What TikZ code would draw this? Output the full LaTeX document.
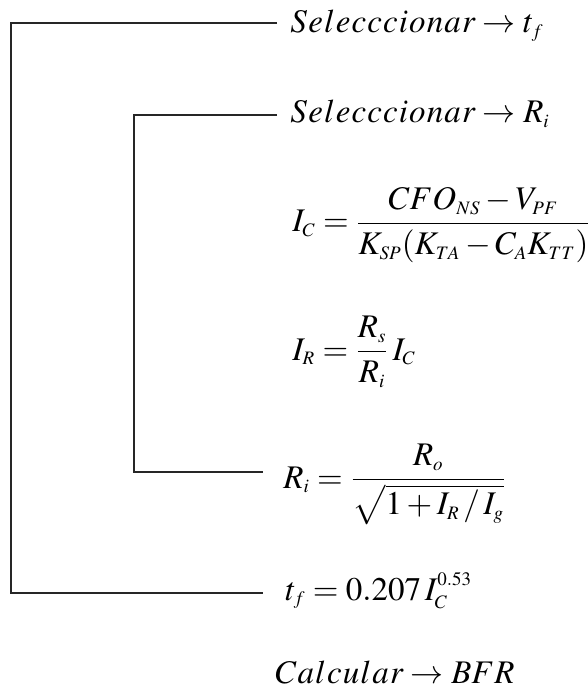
\documentclass[tikz,border=0pt]{standalone}
\usepackage{amsmath}
\usepackage{mathptmx}
\usepackage{fontspec}
\setmainfont{Liberation Serif}
\usepackage{tikz}
\usetikzlibrary{positioning,calc}
\DeclareMathSizes{16.5}{16.5}{9.5}{7.5}

\newcommand{\lsp}{\mkern0.6mu}

\begin{document}
\begin{tikzpicture}[
    x=0.5pt, y=-0.5pt,
    eqn/.style={inner sep=0pt, anchor=base west, font=\fontsize{16.5}{20}\selectfont},
    bracket/.style={draw, line width=0.75pt, color=black!85}
]
    \useasboundingbox (0,0) rectangle (587,688);

    % Steps (top to bottom)
    \node[eqn] (seltf) at (290,33) {$S\lsp e\lsp l\lsp e\lsp c\lsp c\lsp c\lsp i\lsp o\lsp n\lsp a\lsp r \rightarrow t_f$};
    \node[eqn] (selri) at (290,123) {$S\lsp e\lsp l\lsp e\lsp c\lsp c\lsp c\lsp i\lsp o\lsp n\lsp a\lsp r \rightarrow R_i$};
    \node[eqn] (ic) at (292,232) {$I_C = \dfrac{CFO_{NS} \mathbin{-} V_{PF}}{K_{SP}(K_{TA} \mathbin{-} C_A K_{TT})}$};
    \node[eqn] (ir) at (292,360) {$I_R = \dfrac{R_s}{R_i}\, I_C$};
    \node[eqn] (ri) at (283,488) {$R_i = \dfrac{R_o}{\sqrt{1 + I_R \,/\, I_g}}$};
    \node[eqn] (tf) at (285,600) {$t_f = 0.207\, I_C^{\raisebox{1.5pt}{$\scriptstyle 0.53$}}$};
    \node[eqn] (bfr) at (275,683) {$C\lsp a\lsp l\lsp c\lsp u\lsp l\lsp a\lsp r \rightarrow BFR$};

    % Loop ends
    \coordinate (outerx) at (11,0);
    \coordinate (innerx) at (134,0);
    \coordinate (outtop) at ([shift={(-13,-10)}]seltf.base west);
    \coordinate (outbot) at ([shift={(-22,-7)}]tf.base west);
    \coordinate (intop) at ([shift={(-13,-8)}]selri.base west);
    \coordinate (inbot) at ([shift={(-20,-16)}]ri.base west);

    % Brackets
    \path [bracket] (outtop) -| (outerx |- outbot) -- (outbot);
    \path [bracket] (intop) -| (innerx |- inbot) -- (inbot);
\end{tikzpicture}
\end{document}
